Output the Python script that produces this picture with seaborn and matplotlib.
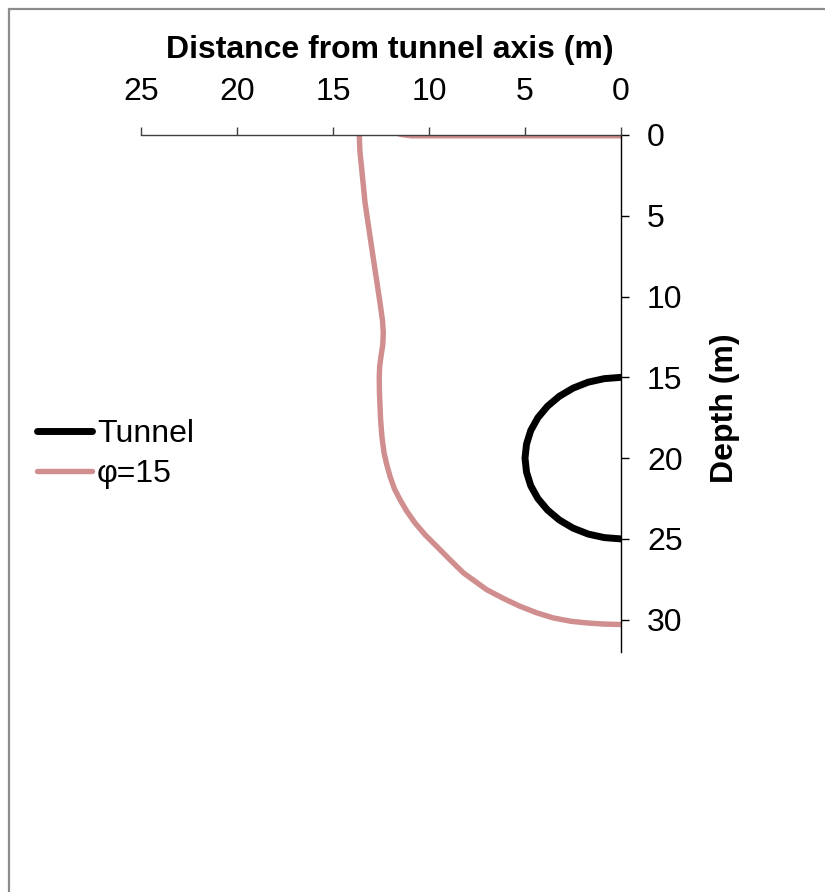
import matplotlib
matplotlib.use("Agg")
import matplotlib.pyplot as plt
import seaborn as sns
import pandas as pd
from matplotlib.patches import Rectangle

# ---- data ----
tunnel_x = [0.0, 0.87, 1.71, 2.5, 3.21, 3.83, 4.33, 4.7, 4.92, 5.0,
            4.92, 4.7, 4.33, 3.83, 3.21, 2.5, 1.71, 0.87, 0.0]
tunnel_depth = [15.0, 15.08, 15.3, 15.67, 16.17, 16.79, 17.5, 18.29, 19.13, 20.0,
                20.87, 21.71, 22.5, 23.21, 23.83, 24.33, 24.7, 24.92, 25.0]

phi15_x = [0.0, 5.0, 10.9, 11.4, 11.8, 12.5, 13.3, 13.63, 13.6, 13.5, 13.33, 13.07, 12.81, 12.55,
           12.42, 12.38, 12.41, 12.5, 12.57, 12.59, 12.58, 12.52, 12.45, 12.34, 12.2, 12.03, 11.8,
           11.51, 11.15, 10.73, 10.2, 9.6, 8.9, 8.21, 7.0, 6.1, 5.26, 4.4, 3.53, 2.6, 1.79, 0.9, 0.0]
phi15_depth = [0.05, 0.05, 0.05, -0.02, -0.15, -0.3, -0.25, 0.0, 1.0, 2.16, 4.2, 6.29, 8.35, 10.4,
               11.5, 12.27, 13.0, 13.7, 14.33, 15.0, 16.0, 17.62, 18.7, 19.68, 20.4, 21.13, 21.9,
               22.57, 23.3, 24.01, 24.75, 25.46, 26.3, 27.1, 28.14, 28.7, 29.17, 29.57, 29.89,
               30.1, 30.2, 30.27, 30.3]

series_labels = ["Tunnel", "\u03c6=15"]
x_ticks = [0, 5, 10, 15, 20, 25]
y_ticks = [0, 5, 10, 15, 20, 25, 30]

sns.set_style("white")
plt.rcParams['font.family'] = ['Liberation Sans', 'DejaVu Sans']
plt.rcParams['text.color'] = 'black'
plt.rcParams['axes.labelcolor'] = 'black'
plt.rcParams['xtick.color'] = 'black'
plt.rcParams['ytick.color'] = 'black'

W, H = 825, 892
fig = plt.figure(figsize=(W / 100, H / 100), dpi=100)
ax = fig.add_axes([141 / W, 1 - 652 / H, 480 / W, 517 / H])

# figure border (cropped chart frame)
fig.patches.append(Rectangle((9 / W, -0.1), 1.2, 1.1 - 9 / H, transform=fig.transFigure,
                             fill=False, edgecolor="#8c8c8c", linewidth=1.6))

df_t = pd.DataFrame({"x": tunnel_x, "depth": tunnel_depth})
df_p = pd.DataFrame({"x": phi15_x, "depth": phi15_depth})

sns.lineplot(data=df_t, x="x", y="depth", sort=False, estimator=None, ax=ax,
             color="black", linewidth=5.0, label=series_labels[0],
             solid_capstyle="round", solid_joinstyle="round")
sns.lineplot(data=df_p, x="x", y="depth", sort=False, estimator=None, ax=ax,
             color="#D08E8E", linewidth=3.9, label=series_labels[1],
             solid_capstyle="round", solid_joinstyle="round")

ax.set_xlim(25, 0)
ax.set_ylim(32, 0)
ax.set_xticks(x_ticks)
ax.set_yticks(y_ticks)

ax.xaxis.tick_top()
ax.yaxis.tick_right()
for s in ["left", "bottom"]:
    ax.spines[s].set_visible(False)
ax.spines["top"].set_color("#404040")
ax.spines["top"].set_linewidth(1.0)
ax.spines["right"].set_color("black")
ax.spines["right"].set_linewidth(1.0)

ax.tick_params(axis="x", direction="out", length=5.8, width=1, color="#404040",
               labelcolor="black", pad=14, labelsize=23, top=True, bottom=False,
               labeltop=True, labelbottom=False)
ax.tick_params(axis="y", direction="out", length=5.8, width=1, color="black",
               labelcolor="black", pad=13, labelsize=23, right=True, left=False,
               labelright=True, labelleft=False)

ax.set_xlabel("Distance from tunnel axis (m)", fontsize=23, fontweight="bold", color="black")
ax.xaxis.set_label_position("top")
ax.xaxis.set_label_coords((390 - 141) / 480, (652 - 50) / 517)
ax.xaxis.label.set_va("center")

ax.set_ylabel("Depth (m)", fontsize=23, fontweight="bold", rotation=90, color="black")
ax.yaxis.set_label_position("right")
ax.yaxis.set_label_coords((725 - 141) / 480, (652 - 408) / 517)
ax.yaxis.label.set_va("center")
ax.yaxis.label.set_ha("center")

ax.grid(False)
ax.set_facecolor("none")

leg = ax.legend(loc="center left", bbox_to_anchor=(37 / W, 1 - 454 / H),
                bbox_transform=fig.transFigure, frameon=False, fontsize=23,
                handlelength=1.72, handletextpad=0.16, labelspacing=0.3,
                borderpad=0, borderaxespad=0)
for t in leg.get_texts():
    t.set_color("black")

fig.savefig("out.png", dpi=100, facecolor="white")
